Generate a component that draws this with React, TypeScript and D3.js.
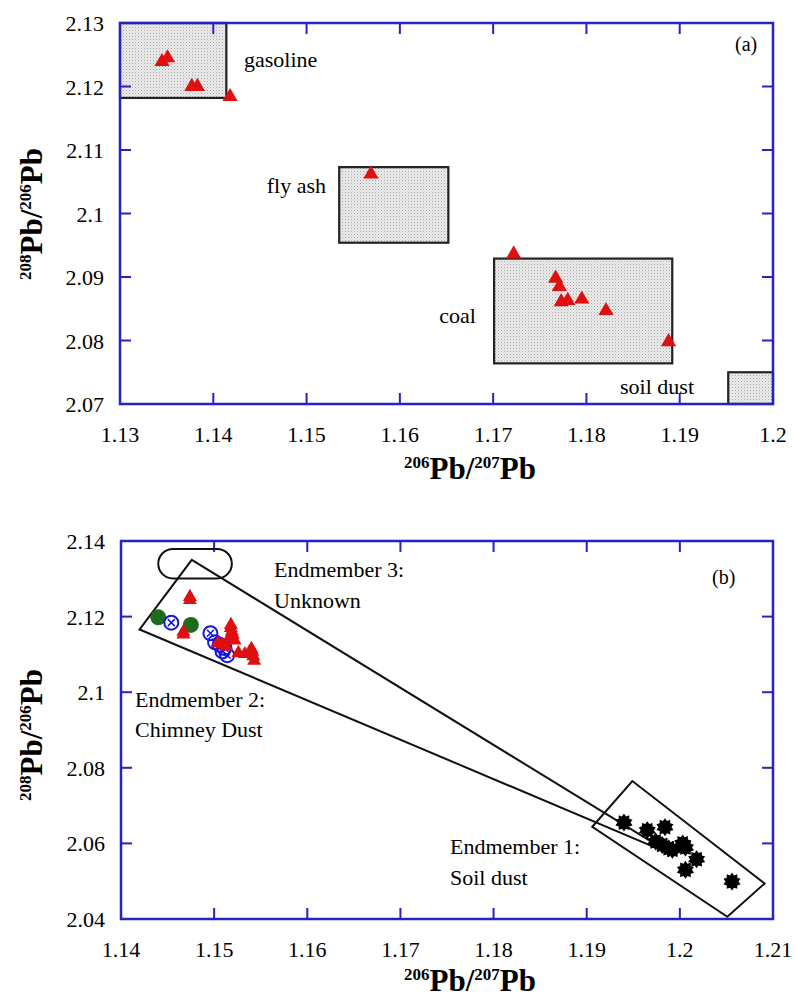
import React from 'react';
import * as d3 from 'd3';

// ---- panel (a) data ----
const xTicksA = [1.13, 1.14, 1.15, 1.16, 1.17, 1.18, 1.19, 1.2];
const yTicksA = [2.07, 2.08, 2.09, 2.1, 2.11, 2.12, 2.13];
const xTickLabelsA = ['1.13', '1.14', '1.15', '1.16', '1.17', '1.18', '1.19', '1.2'];
const yTickLabelsA = ['2.07', '2.08', '2.09', '2.1', '2.11', '2.12', '2.13'];

const sourceBoxes = [
  { name: 'gasoline', x0: 1.13, x1: 1.1414, y0: 2.1182, y1: 2.13 },
  { name: 'fly ash', x0: 1.1535, x1: 1.1652, y0: 2.0954, y1: 2.1073 },
  { name: 'coal', x0: 1.1701, x1: 1.1892, y0: 2.0764, y1: 2.0929 },
  { name: 'soil dust', x0: 1.1952, x1: 1.2, y0: 2.07, y1: 2.075 },
];

const samplesA: [number, number][] = [
  [1.1345, 2.1239], [1.1351, 2.1245], [1.1377, 2.12], [1.1383, 2.12], [1.1418, 2.1184],
  [1.1569, 2.1062],
  [1.1722, 2.0936], [1.1767, 2.0898], [1.1771, 2.0885], [1.1773, 2.0861], [1.178, 2.0863],
  [1.1795, 2.0865], [1.1821, 2.0847], [1.1888, 2.0798],
];

// ---- panel (b) data ----
const xTicksB = [1.14, 1.15, 1.16, 1.17, 1.18, 1.19, 1.2, 1.21];
const yTicksB = [2.04, 2.06, 2.08, 2.1, 2.12, 2.14];
const xTickLabelsB = ['1.14', '1.15', '1.16', '1.17', '1.18', '1.19', '1.2', '1.21'];
const yTickLabelsB = ['2.04', '2.06', '2.08', '2.1', '2.12', '2.14'];

const greenB: [number, number][] = [[1.144, 2.1198], [1.1475, 2.1178]];
const blueB: [number, number][] = [
  [1.1454, 2.1184], [1.1496, 2.1156], [1.1501, 2.1132], [1.1506, 2.1125],
  [1.1511, 2.1117], [1.1514, 2.1098], [1.1509, 2.1108],
];
const redB: [number, number][] = [
  [1.1474, 2.1252], [1.1474, 2.1244], [1.1467, 2.116], [1.1467, 2.1153],
  [1.1518, 2.1178], [1.1518, 2.117], [1.1519, 2.1161], [1.152, 2.1152], [1.1516, 2.1143],
  [1.1522, 2.1137], [1.1509, 2.1126], [1.1504, 2.113], [1.1513, 2.1121],
  [1.1526, 2.1104], [1.1533, 2.1101], [1.1538, 2.1106], [1.154, 2.1115], [1.1541, 2.1107],
  [1.1542, 2.1095], [1.1543, 2.1083],
];
const blackB: [number, number][] = [
  [1.194, 2.0655], [1.1965, 2.0635], [1.1984, 2.0643], [1.1974, 2.0605], [1.1981, 2.0596],
  [1.1988, 2.0587], [1.1992, 2.0583], [1.2003, 2.06], [1.2006, 2.0589], [1.2018, 2.0558],
  [1.2006, 2.053], [1.2056, 2.0499],
];
const wedgeB: [number, number][] = [[1.142, 2.1166], [1.1476, 2.135], [1.1993, 2.0569]];
const endmember1B: [number, number][] = [[1.1906, 2.0644], [1.1949, 2.0765], [1.2091, 2.0494], [1.2051, 2.0406]];
const ovalB = { x0: 1.144, x1: 1.1519, y0: 2.1301, y1: 2.1379 };

const AXIS = '#2323c8';
const RED = '#e01010';
const TICK_FS = 22;
const LABEL_FS = 22;

function Frame({ x, y, xt, yt, xl, yl }: any) {
  const [x0, x1] = x.range();
  const [y0, y1] = y.range();
  return (
    <g>
      {xt.map((t: number, i: number) => (
        <g key={'x' + i}>
          <line x1={x(t)} x2={x(t)} y1={y0} y2={y0 - 11} stroke={AXIS} strokeWidth={2} />
          <line x1={x(t)} x2={x(t)} y1={y1} y2={y1 + 11} stroke={AXIS} strokeWidth={2} />
          <text x={x(t)} y={y0 + 38} textAnchor="middle" fontSize={TICK_FS}>{xl[i]}</text>
        </g>
      ))}
      {yt.map((t: number, i: number) => (
        <g key={'y' + i}>
          <line x1={x0} x2={x0 + 11} y1={y(t)} y2={y(t)} stroke={AXIS} strokeWidth={2} />
          <line x1={x1} x2={x1 - 11} y1={y(t)} y2={y(t)} stroke={AXIS} strokeWidth={2} />
          <text x={x0 - 16} y={y(t) + 8} textAnchor="end" fontSize={TICK_FS}>{yl[i]}</text>
        </g>
      ))}
      <rect x={x0} y={y1} width={x1 - x0} height={y0 - y1} fill="none" stroke={AXIS} strokeWidth={2.5} />
    </g>
  );
}

function IsoLabel({ x, y, a, b, rotate }: any) {
  return (
    <text
      x={x}
      y={y}
      textAnchor="middle"
      fontWeight="bold"
      fontSize={31}
      transform={rotate ? `rotate(-90 ${x} ${y})` : undefined}
    >
      <tspan fontSize={17} dy={-11}>{a}</tspan>
      <tspan dy={11}>Pb/</tspan>
      <tspan fontSize={17} dy={-11}>{b}</tspan>
      <tspan dy={11}>Pb</tspan>
    </text>
  );
}

const tri = d3.symbol(d3.symbolTriangle, 100)();
const triB = d3.symbol(d3.symbolTriangle, 85)();

function starPath(ro: number, ri: number, n: number) {
  const pts: [number, number][] = [];
  for (let i = 0; i < n * 2; i++) {
    pts.push([(i * Math.PI) / n, i % 2 === 0 ? ro : ri]);
  }
  return d3.lineRadial().curve(d3.curveLinearClosed)(pts) as string;
}
const star = starPath(9, 6.5, 10);

export default function App() {
  // panel (a)
  const xa = d3.scaleLinear().domain([1.13, 1.2]).range([120, 773]);
  const ya = d3.scaleLinear().domain([2.07, 2.13]).range([404, 23]);
  // panel (b)
  const xb = d3.scaleLinear().domain([1.14, 1.21]).range([121, 773]);
  const yb = d3.scaleLinear().domain([2.04, 2.14]).range([919, 541]);

  const poly = (pts: [number, number][]) =>
    d3.line<[number, number]>().x(d => xb(d[0])).y(d => yb(d[1])).curve(d3.curveLinearClosed)(pts) as string;

  const ovW = xb(ovalB.x1) - xb(ovalB.x0);
  const ovH = yb(ovalB.y0) - yb(ovalB.y1);

  return (
    <div>
      <style>{'body{margin:0}'}</style>
      <svg width={795} height={1001} fontFamily="Liberation Serif, Times New Roman, serif" style={{ display: 'block' }}>
        <defs>
          <pattern id="stip" width={3} height={3} patternUnits="userSpaceOnUse">
            <rect width={3} height={3} fill="#ececec" />
            <rect width={1} height={1} fill="#a8a8a8" />
            <rect x={1.5} y={1.5} width={1} height={1} fill="#c4c4c4" />
          </pattern>
        </defs>
        <rect width={795} height={1001} fill="#fff" />

        {/* ---------- panel (a) ---------- */}
        {sourceBoxes.map(b => (
          <rect
            key={b.name}
            x={xa(b.x0)}
            y={ya(b.y1)}
            width={xa(b.x1) - xa(b.x0)}
            height={ya(b.y0) - ya(b.y1)}
            fill="url(#stip)"
            stroke="#222"
            strokeWidth={2.2}
          />
        ))}
        <Frame x={xa} y={ya} xt={xTicksA} yt={yTicksA} xl={xTickLabelsA} yl={yTickLabelsA} />
        {samplesA.map((d, i) => (
          <path key={i} d={tri} transform={`translate(${xa(d[0])},${ya(d[1])})`} fill={RED} />
        ))}
        <text x={244} y={67} fontSize={LABEL_FS}>gasoline</text>
        <text x={326} y={193} fontSize={LABEL_FS} textAnchor="end">fly ash</text>
        <text x={476} y={323} fontSize={LABEL_FS} textAnchor="end">coal</text>
        <text x={694} y={394} fontSize={LABEL_FS} textAnchor="end">soil dust</text>
        <text x={735} y={51} fontSize={20}>(a)</text>
        <IsoLabel x={42} y={214} a="208" b="206" rotate />
        <IsoLabel x={470} y={479} a="206" b="207" />

        {/* ---------- panel (b) ---------- */}
        <Frame x={xb} y={yb} xt={xTicksB} yt={yTicksB} xl={xTickLabelsB} yl={yTickLabelsB} />
        <rect
          x={xb(ovalB.x0)}
          y={yb(ovalB.y1)}
          width={ovW}
          height={ovH}
          rx={ovH / 2}
          ry={ovH / 2}
          fill="none"
          stroke="#111"
          strokeWidth={2}
        />
        <path d={poly(wedgeB)} fill="none" stroke="#111" strokeWidth={2} />
        <path d={poly(endmember1B)} fill="none" stroke="#111" strokeWidth={2} />
        {greenB.map((d, i) => (
          <circle key={'g' + i} cx={xb(d[0])} cy={yb(d[1])} r={8} fill="#1e6b1e" />
        ))}
        {blueB.map((d, i) => (
          <g key={'bl' + i} transform={`translate(${xb(d[0])},${yb(d[1])})`}>
            <circle r={7} fill="none" stroke="#1515e0" strokeWidth={2} />
            <path d="M-3.5,-3.5L3.5,3.5M-3.5,3.5L3.5,-3.5" stroke="#1515e0" strokeWidth={1.5} />
          </g>
        ))}
        {redB.map((d, i) => (
          <path key={'r' + i} d={triB} transform={`translate(${xb(d[0])},${yb(d[1])})`} fill={RED} />
        ))}
        {blackB.map((d, i) => (
          <path key={'k' + i} d={star} transform={`translate(${xb(d[0])},${yb(d[1])})`} fill="#000" />
        ))}
        <text x={274} y={577} fontSize={LABEL_FS}>Endmember 3:</text>
        <text x={274} y={608} fontSize={LABEL_FS}>Unknown</text>
        <text x={135} y={707} fontSize={LABEL_FS}>Endmember 2:</text>
        <text x={135} y={737} fontSize={LABEL_FS}>Chimney Dust</text>
        <text x={450} y={854} fontSize={LABEL_FS}>Endmember 1:</text>
        <text x={450} y={885} fontSize={LABEL_FS}>Soil dust</text>
        <text x={712} y={584} fontSize={20}>(b)</text>
        <IsoLabel x={42} y={735} a="208" b="206" rotate />
        <IsoLabel x={470} y={991} a="206" b="207" />
      </svg>
    </div>
  );
}
